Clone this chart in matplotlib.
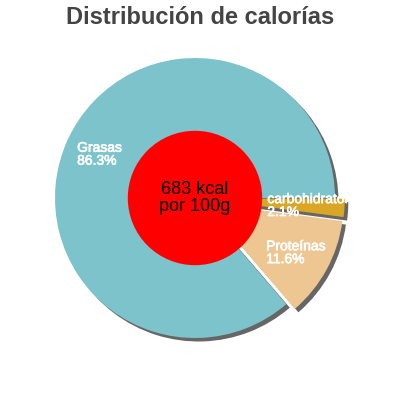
import matplotlib
matplotlib.use("Agg")
import matplotlib.pyplot as plt
import matplotlib.patheffects as pe
from matplotlib.patches import Wedge, Circle
from matplotlib.transforms import Bbox

categories = ["carbohidratos", "Proteínas", "Grasas"]
values = [2.1, 11.6, 86.3]
colors = ["#dba526", "#eec692", "#7cc3cc"]
explode = [0.07, 0.07, 0.0]
center_text = "683 kcal\npor 100g"
title = "Distribución de calorías"

plt.rcParams['font.family'] = ['Liberation Sans', 'DejaVu Sans']

fig = plt.figure(figsize=(4, 4), dpi=100)
ax = fig.add_axes([0.05, 0.0675, 0.875, 0.875])

labels = [f"{c}\n{v}%" for c, v in zip(categories, values)]
wedges, texts = ax.pie(values, colors=colors, explode=explode, startangle=0,
                       counterclock=False, labels=labels, labeldistance=0.75,
                       textprops=dict(color='white', fontsize=10),
                       frame=False, normalize=True)
ax.set_xlim(-1.25, 1.25)
ax.set_ylim(-1.25, 1.25)
ax.set_aspect('equal')
ax.axis('off')
ax.set_position([0.05, 0.0675, 0.875, 0.875])
clip = Bbox([[0, 0], [347, 400]])
for t in texts:
    t.set_ha('center')
    t.set_multialignment('left')
    t.set_linespacing(0.9)
    t.set_zorder(5)
    t.set_clip_box(clip)
    t.set_clip_on(True)
    t.set_path_effects([pe.withStroke(linewidth=0.5, foreground='white')])

# shadows
for w in wedges:
    cx, cy = w.center
    sh = Wedge((cx + 0.025, cy - 0.025), w.r, w.theta1, w.theta2,
               facecolor='#666666', edgecolor='none', zorder=0.5)
    ax.add_patch(sh)
for w in wedges:
    w.set_zorder(1)

ax.add_patch(Circle((0, 0), 0.48, facecolor='#ff0000', edgecolor='none', zorder=3))
ax.text(0, 0, center_text, ha='center', va='center', fontsize=13, color='black', zorder=4,
        linespacing=1.05)

fig.text(0.5, 0.957, title, ha='center', va='center', fontsize=17, fontweight='bold',
         color='#444444')

fig.savefig("out.png", dpi=100)
